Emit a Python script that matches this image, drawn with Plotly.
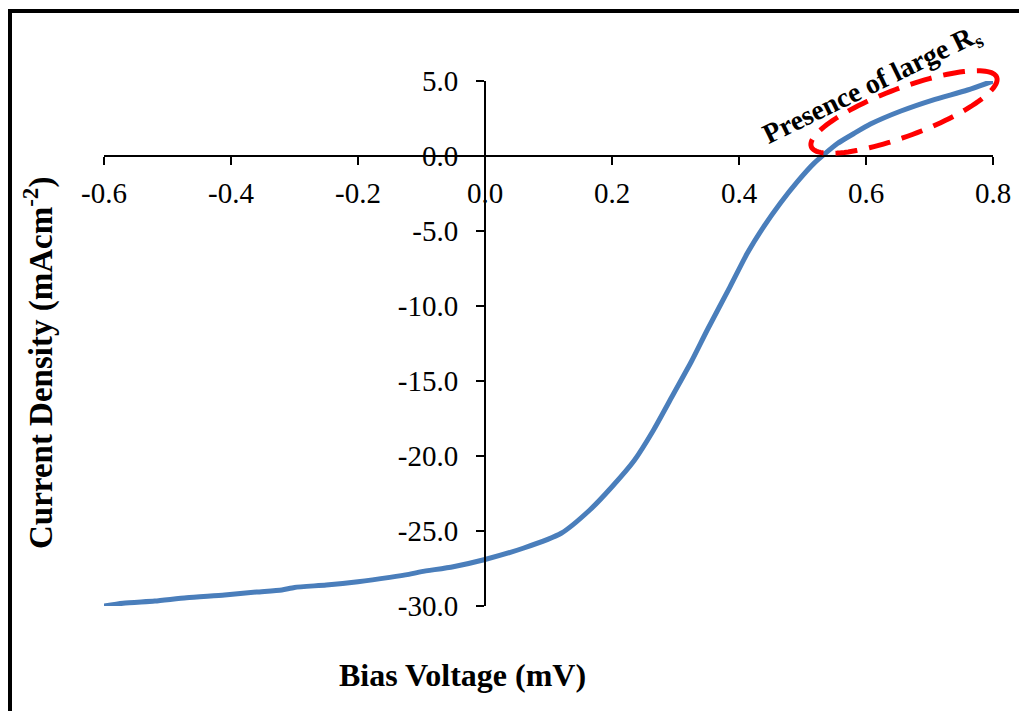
import numpy as np
import plotly.graph_objects as go

# Data
bias_voltage = [-0.60, -0.57, -0.52, -0.47, -0.41, -0.36, -0.32, -0.30, -0.25, -0.20,
                -0.15, -0.12, -0.10, -0.05, 0.00, 0.06, 0.12, 0.165, 0.20, 0.235,
                0.265, 0.295, 0.325, 0.35, 0.386, 0.413, 0.439, 0.465, 0.492, 0.518,
                0.555, 0.581, 0.607, 0.655, 0.705, 0.76, 0.80]
current_density = [-30.0, -29.82, -29.67, -29.45, -29.27, -29.07, -28.93, -28.76, -28.6, -28.38,
                   -28.09, -27.89, -27.71, -27.38, -26.9, -26.15, -25.15, -23.6, -22.05, -20.3,
                   -18.3, -16.0, -13.7, -11.6, -8.71, -6.49, -4.71, -3.15, -1.71, -0.49,
                   0.83, 1.5, 2.13, 3.0, 3.73, 4.4, 5.0]

x_tick_vals = [-0.6, -0.4, -0.2, 0.0, 0.2, 0.4, 0.6, 0.8]
x_tick_text = ["-0.6", "-0.4", "-0.2", "0.0", "0.2", "0.4", "0.6", "0.8"]
y_tick_vals = [5, 0, -5, -10, -15, -20, -25, -30]
y_tick_text = ["5.0", "0.0", "-5.0", "-10.0", "-15.0", "-20.0", "-25.0", "-30.0"]

X_RANGE = [-0.6, 0.8]
Y_RANGE = [-30, 5]

OFF = 8  # page body margin
W, H = 1027 - OFF, 711 - OFF
ML, MT = 104 - OFF, 81 - OFF
PLOT_R, PLOT_B = 993 - OFF, 606 - OFF
MR, MB = W - PLOT_R, H - PLOT_B
PW, PH = PLOT_R - ML, PLOT_B - MT

def px_to_paper(px, py):
    """page pixel -> paper fraction"""
    return (px - OFF - ML) / PW, (PLOT_B - (py - OFF)) / PH

FONT = "Liberation Serif, Times New Roman, serif"

fig = go.Figure()
fig.add_trace(go.Scatter(
    x=bias_voltage, y=current_density, mode="lines",
    line=dict(color="#4a7ebb", width=5, shape="spline", smoothing=0.6),
    hoverinfo="skip", showlegend=False,
))

# Red dashed ellipse (annotation decoration), built in page-pixel space -> paper
cx, cy, a, b, ang = 904, 112, 99, 24, np.deg2rad(20.5)
t = np.linspace(0, 2 * np.pi, 121)
ex = cx + a * np.cos(t) * np.cos(ang) - b * np.sin(t) * np.sin(ang)
ey = cy - (a * np.cos(t) * np.sin(ang) + b * np.sin(t) * np.cos(ang))
pts = [px_to_paper(u, v) for u, v in zip(ex, ey)]
path = "M " + " L ".join(f"{p[0]:.5f},{p[1]:.5f}" for p in pts) + " Z"

ftl = px_to_paper(7, 11)
ftr = px_to_paper(1060, 11)
flt = px_to_paper(9.5, 9)
flb = px_to_paper(9.5, 760)

shapes = [
    dict(type="path", xref="paper", yref="paper", path=path,
         line=dict(color="#ff0000", width=5, dash="22px,12px"), layer="above"),
    # outer frame (top and left edges visible)
    dict(type="line", xref="paper", yref="paper",
         x0=ftl[0], y0=ftl[1], x1=ftr[0], y1=ftr[1],
         line=dict(color="black", width=4)),
    dict(type="line", xref="paper", yref="paper",
         x0=flt[0], y0=flt[1], x1=flb[0], y1=flb[1],
         line=dict(color="black", width=5)),
]

ytx, yty = px_to_paper(38, 363)
xtx, xty = px_to_paper(462, 675)
anx, any_ = px_to_paper(872, 85)

annotations = [
    dict(text="<b>Current Density (mAcm<sup>-2</sup>)</b>", xref="paper", yref="paper",
         x=ytx, y=yty, textangle=-90, showarrow=False,
         font=dict(family=FONT, size=33, color="black"), xanchor="center", yanchor="middle"),
    dict(text="<b>Bias Voltage (mV)</b>", xref="paper", yref="paper",
         x=xtx, y=xty, showarrow=False,
         font=dict(family=FONT, size=32, color="black"), xanchor="center", yanchor="middle"),
    dict(text="<b>Presence of large R<sub>s</sub></b>", xref="paper", yref="paper",
         x=anx, y=any_, textangle=-26, showarrow=False,
         font=dict(family=FONT, size=28, color="black"), xanchor="center", yanchor="middle"),
]

fig.update_layout(
    width=W, height=H,
    margin=dict(l=ML, r=MR, t=MT, b=MB, pad=0),
    paper_bgcolor="white", plot_bgcolor="white",
    font=dict(family=FONT, size=29, color="black"),
    shapes=shapes, annotations=annotations,
    xaxis=dict(
        range=X_RANGE, tickvals=x_tick_vals, ticktext=x_tick_text,
        anchor="free", position=(0 - Y_RANGE[0]) / (Y_RANGE[1] - Y_RANGE[0]),
        showline=True, linecolor="black", linewidth=2,
        ticks="outside", ticklen=8, tickwidth=2, tickcolor="black",
        showgrid=False, zeroline=False, ticklabelstandoff=3,
        tickfont=dict(family=FONT, size=29, color="black"),
    ),
    yaxis=dict(
        range=Y_RANGE, tickvals=y_tick_vals, ticktext=y_tick_text,
        anchor="free", position=(0 - X_RANGE[0]) / (X_RANGE[1] - X_RANGE[0]),
        showline=True, linecolor="black", linewidth=2,
        ticks="outside", ticklen=8, tickwidth=2, tickcolor="black",
        showgrid=False, zeroline=False, ticklabelstandoff=12,
        tickfont=dict(family=FONT, size=29, color="black"),
    ),
)

fig.write_html("out.html")
